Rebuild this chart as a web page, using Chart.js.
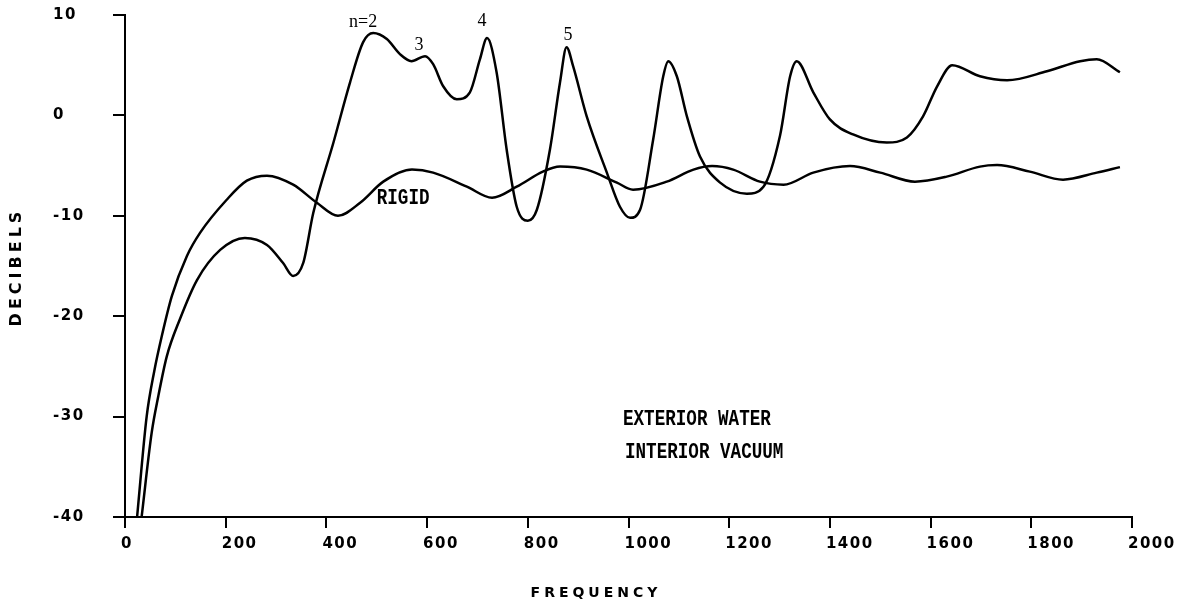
<!DOCTYPE html>
<html>
<head>
<meta charset="utf-8">
<script src="https://cdn.jsdelivr.net/npm/chart.js@4.4.1/dist/chart.umd.min.js"></script>
<style>
    html, body { margin: 0; padding: 0; background: #fff; }
    #wrap { width: 1182px; height: 606px; }
</style>
</head>
<body>
<div id="wrap"><canvas id="chart" width="1182" height="606"></canvas></div>
<script>
// tick values
const xTicks = [0, 200, 400, 600, 800, 1000, 1200, 1400, 1600, 1800, 2000];
const yTicks = [10, 0, -10, -20, -30, -40];

// rigid cylinder response
const rigidFreq = [24, 43, 58, 73, 93, 123, 149, 202, 242, 282, 334, 381, 423, 467, 513, 570,
    612, 679, 729, 778, 830, 864, 917, 977, 1009, 1076, 1129, 1166, 1208, 1261, 1308, 1367, 1440,
    1500, 1569, 1632, 1698, 1732, 1797, 1863, 1930, 1976];
const rigidDb = [-40, -30, -25.5, -22, -18, -14, -11.7, -8.4, -6.5, -6.0, -6.9, -8.7, -10.0, -8.7,
    -6.6, -5.4, -5.7, -7.1, -8.2, -7.1, -5.6, -5.1, -5.4, -6.7, -7.4, -6.6, -5.4, -5.05, -5.4, -6.6,
    -6.9, -5.7, -5.05, -5.7, -6.6, -6.1, -5.1, -4.95, -5.6, -6.4, -5.7, -5.15];

// elastic shell, exterior water / interior vacuum
const shellFreq = [33, 53, 66, 83, 109, 143, 189, 238, 282, 314, 334, 354, 374, 414, 447, 473, 493,
    520, 546, 569, 596, 612, 632, 659, 685, 705, 719, 738, 758, 778, 800, 818, 844, 864, 877, 890,
    917, 957, 983, 1003, 1023, 1049, 1069, 1079, 1096, 1116, 1142, 1182, 1235, 1268, 1301, 1321,
    1334, 1367, 1400, 1446, 1513, 1553, 1585, 1613, 1643, 1698, 1752, 1831, 1897, 1930, 1976];
const shellDb = [-40, -31.6, -28, -24, -20.3, -16.4, -13.4, -12.2, -12.9, -14.7, -16.0, -14.7, -9.7,
    -2.7, 3.3, 7.3, 8.2, 7.6, 6.1, 5.4, 5.9, 5.1, 2.9, 1.6, 2.3, 5.6, 7.7, 4.3, -3.4, -9.1, -10.5,
    -9.4, -3.4, 3.3, 6.8, 4.9, -0.1, -5.7, -9.1, -10.2, -9.4, -2.4, 3.9, 5.4, 3.9, -0.1, -4.1, -6.7,
    -7.8, -7.1, -2.0, 3.9, 5.4, 2.3, -0.4, -1.9, -2.7, -2.2, -0.1, 2.9, 5.0, 3.9, 3.5, 4.4, 5.4, 5.6,
    4.3];

// text notes placed in data units
const notes = [
    { text: 'n=2', x: 473, y: 9.3, kind: 'hand' },
    { text: '3', x: 584, y: 7.0, kind: 'hand' },
    { text: '4', x: 709, y: 9.4, kind: 'hand' },
    { text: '5', x: 880, y: 8.0, kind: 'hand' },
    { text: 'RIGID', x: 500, y: -8.3, kind: 'type' },
    { text: 'EXTERIOR WATER', x: 989, y: -30.3, kind: 'type' },
    { text: 'INTERIOR VACUUM', x: 993, y: -33.6, kind: 'type' }
];

const tickFont = { family: "'DejaVu Sans', sans-serif", size: 15, weight: 'bold' };

const textPlugin = {
    id: 'plotText',
    beforeDraw(chart) {
        chart.ctx.letterSpacing = '1.5px';
    },
    afterDraw(chart) {
        const ctx = chart.ctx;
        const xs = chart.scales.x;
        const ys = chart.scales.y;
        ctx.save();
        ctx.fillStyle = '#000';
        ctx.textBaseline = 'middle';

        notes.forEach(n => {
            const px = xs.getPixelForValue(n.x);
            const py = ys.getPixelForValue(n.y);
            ctx.save();
            ctx.letterSpacing = '0px';
            if (n.kind === 'type') {
                ctx.font = "bold 22px 'Liberation Mono', monospace";
                ctx.textAlign = 'left';
                ctx.translate(px, py);
                ctx.scale(0.8, 1);
                ctx.fillText(n.text, 0, 0);
            } else {
                ctx.font = "18px 'Liberation Serif', serif";
                ctx.textAlign = 'center';
                ctx.fillText(n.text, px, py);
            }
            ctx.restore();
        });

        // axis titles
        ctx.font = "bold 14px 'DejaVu Sans', sans-serif";
        ctx.textAlign = 'center';
        ctx.letterSpacing = '4px';
        ctx.fillText('FREQUENCY', 596, 593);

        ctx.font = "bold 16px 'DejaVu Sans', sans-serif";
        ctx.letterSpacing = '4px';
        ctx.translate(17, 267);
        ctx.rotate(-Math.PI / 2);
        ctx.fillText('DECIBELS', 0, 0);
        ctx.restore();
        ctx.letterSpacing = '0px';
    }
};

const ctx = document.getElementById('chart').getContext('2d');
new Chart(ctx, {
    type: 'line',
    data: {
        datasets: [
            {
                label: 'Rigid',
                data: rigidFreq.map((f, i) => ({ x: f, y: rigidDb[i] })),
                borderColor: '#000',
                borderWidth: 2.5,
                pointRadius: 0,
                fill: false,
                cubicInterpolationMode: 'monotone'
            },
            {
                label: 'Shell',
                data: shellFreq.map((f, i) => ({ x: f, y: shellDb[i] })),
                borderColor: '#000',
                borderWidth: 2.5,
                pointRadius: 0,
                fill: false,
                cubicInterpolationMode: 'monotone'
            }
        ]
    },
    options: {
        responsive: false,
        animation: false,
        devicePixelRatio: 1,
        layout: { padding: { left: 53, right: 50, top: 15, bottom: 0 } },
        plugins: {
            legend: { display: false },
            tooltip: { enabled: false }
        },
        scales: {
            x: {
                type: 'linear',
                min: 0,
                max: 2000,
                afterBuildTicks: scale => { scale.ticks = xTicks.map(v => ({ value: v })); },
                afterFit: scale => {
                    scale.height = 89;
                    scale.paddingLeft = 0;
                    scale.paddingRight = 0;
                },
                grid: { drawOnChartArea: false, drawTicks: true, tickLength: 11, color: '#000', lineWidth: 2 },
                border: { display: true, color: '#000', width: 2 },
                ticks: {
                    color: '#000',
                    font: tickFont,
                    align: 'start',
                    labelOffset: -4,
                    padding: 7,
                    maxRotation: 0,
                    autoSkip: false,
                    callback: value => String(value)
                }
            },
            y: {
                type: 'linear',
                min: -40,
                max: 10,
                afterBuildTicks: scale => { scale.ticks = yTicks.map(v => ({ value: v })); },
                afterFit: scale => {
                    scale.width = 72;
                    scale.paddingTop = 0;
                    scale.paddingBottom = 0;
                },
                grid: { drawOnChartArea: false, drawTicks: true, tickLength: 12, color: '#000', lineWidth: 2 },
                border: { display: true, color: '#000', width: 2 },
                ticks: {
                    color: '#000',
                    font: tickFont,
                    crossAlign: 'far',
                    autoSkip: false,
                    callback: value => String(value)
                }
            }
        }
    },
    plugins: [textPlugin]
});
</script>
</body>
</html>
